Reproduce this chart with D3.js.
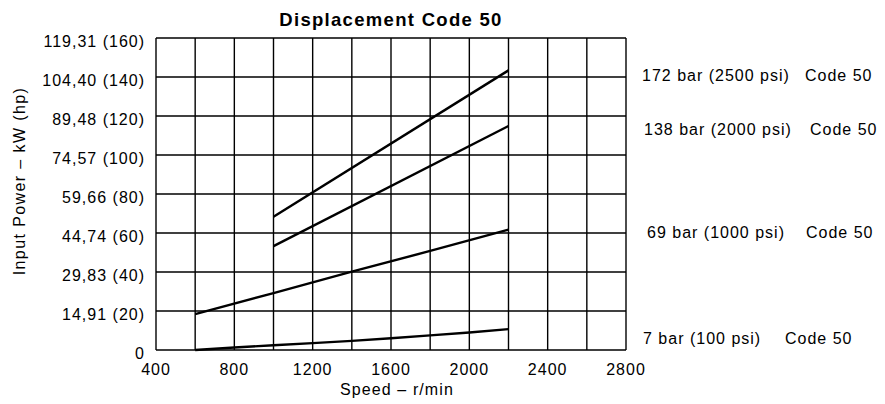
<!DOCTYPE html>
<html>
<head>
<meta charset="utf-8">
<script src="https://cdn.jsdelivr.net/npm/d3@7"></script>
<style>
  body { margin: 0; background: #fff; }
  svg { font-family: "Liberation Sans", Arial, sans-serif; }
</style>
</head>
<body>
<svg id="chart" width="885" height="404"></svg>
<script>
// tick values
var hpTicks = [0, 20, 40, 60, 80, 100, 120, 140, 160];
var kwLabels = ["0", "14,91", "29,83", "44,74", "59,66", "74,57", "89,48", "104,40", "119,31"];
var rpmGrid = [400, 600, 800, 1000, 1200, 1400, 1600, 1800, 2000, 2200, 2400, 2600, 2800];
var rpmLabels = [400, 800, 1200, 1600, 2000, 2400, 2800];

// curves, speed r/min vs input power hp
var rpm7 = [600, 800, 1000, 1200, 1400, 1600, 1800, 2000, 2200];
var hp7 = [0, 1.3, 2.4, 3.5, 4.7, 6.0, 7.5, 9.0, 10.7];
var rpm69 = [600, 1000, 1400, 1800, 2200];
var hp69 = [18.4, 29.2, 40.2, 50.8, 61.7];
var rpm138 = [1000, 2200];
var hp138 = [53.3, 114.9];
var rpm172 = [1000, 2200];
var hp172 = [68.3, 143.4];

var seriesNames = ["172 bar (2500 psi)", "138 bar (2000 psi)", "69 bar (1000 psi)", "7 bar (100 psi)"];

var svg = d3.select("#chart");
var plotL = 156, plotR = 626, plotT = 38, plotB = 350;

var x = d3.scaleLinear().domain([400, 2800]).range([plotL, plotR]);
var y = d3.scaleLinear().domain([0, 160]).range([plotB, plotT]);

// grid
var grid = svg.append("g");
grid.selectAll("line.v")
  .data(rpmGrid)
  .enter().append("line")
  .attr("class", "v")
  .attr("x1", function(d) { return x(d); })
  .attr("x2", function(d) { return x(d); })
  .attr("y1", y(0)).attr("y2", y(160))
  .attr("stroke", "#000").attr("stroke-width", 1.4);
grid.selectAll("line.h")
  .data(hpTicks)
  .enter().append("line")
  .attr("class", "h")
  .attr("x1", x(400)).attr("x2", x(2800))
  .attr("y1", function(d) { return y(d); })
  .attr("y2", function(d) { return y(d); })
  .attr("stroke", "#000").attr("stroke-width", 1.4);

// y labels (sit a little below their grid line, as in the print)
svg.append("g").selectAll("text")
  .data(hpTicks)
  .enter().append("text")
  .attr("x", plotL - 11)
  .attr("y", function(d) { return y(d); })
  .attr("dy", "0.58em")
  .attr("text-anchor", "end")
  .attr("font-size", "16px")
  .attr("letter-spacing", "1px")
  .text(function(d, i) { return d == 0 ? "0" : kwLabels[i] + " (" + d + ")"; });

// x labels
svg.append("g").selectAll("text")
  .data(rpmLabels)
  .enter().append("text")
  .attr("x", function(d) { return x(d); })
  .attr("y", 375)
  .attr("text-anchor", "middle")
  .attr("font-size", "16px")
  .attr("letter-spacing", "1px")
  .text(function(d) { return d; });

svg.append("text")
  .attr("x", 397).attr("y", 395)
  .attr("text-anchor", "middle")
  .attr("font-size", "16px")
  .attr("letter-spacing", "1.1px")
  .text("Speed \u2013 r/min");

svg.append("text")
  .attr("transform", "translate(25,181) rotate(-90)")
  .attr("text-anchor", "middle")
  .attr("font-size", "16px")
  .attr("letter-spacing", "1.4px")
  .text("Input Power \u2013 kW (hp)");

svg.append("text")
  .attr("x", 391).attr("y", 26)
  .attr("text-anchor", "middle")
  .attr("font-size", "18.5px")
  .attr("font-weight", "bold")
  .attr("letter-spacing", "1.3px")
  .text("Displacement Code 50");

// curves
var line = d3.line()
  .x(function(d) { return x(d[0]); })
  .y(function(d) { return y(d[1]); });

var curves = [
  d3.zip(rpm172, hp172),
  d3.zip(rpm138, hp138),
  d3.zip(rpm69, hp69),
  d3.zip(rpm7, hp7)
];

svg.append("g").selectAll("path")
  .data(curves)
  .enter().append("path")
  .attr("d", line)
  .attr("fill", "none")
  .attr("stroke", "#000")
  .attr("stroke-width", 2.4);

// right hand labels
var labelY = [81, 135, 238, 344];
var labelX = [642, 644, 647, 643];
var codeX = [805, 810, 806, 785];
var labs = svg.append("g").attr("font-size", "16px").attr("letter-spacing", "1px");
seriesNames.forEach(function(n, i) {
  labs.append("text").attr("x", labelX[i]).attr("y", labelY[i]).text(n);
  labs.append("text").attr("x", codeX[i]).attr("y", labelY[i]).text("Code 50");
});
</script>
</body>
</html>
